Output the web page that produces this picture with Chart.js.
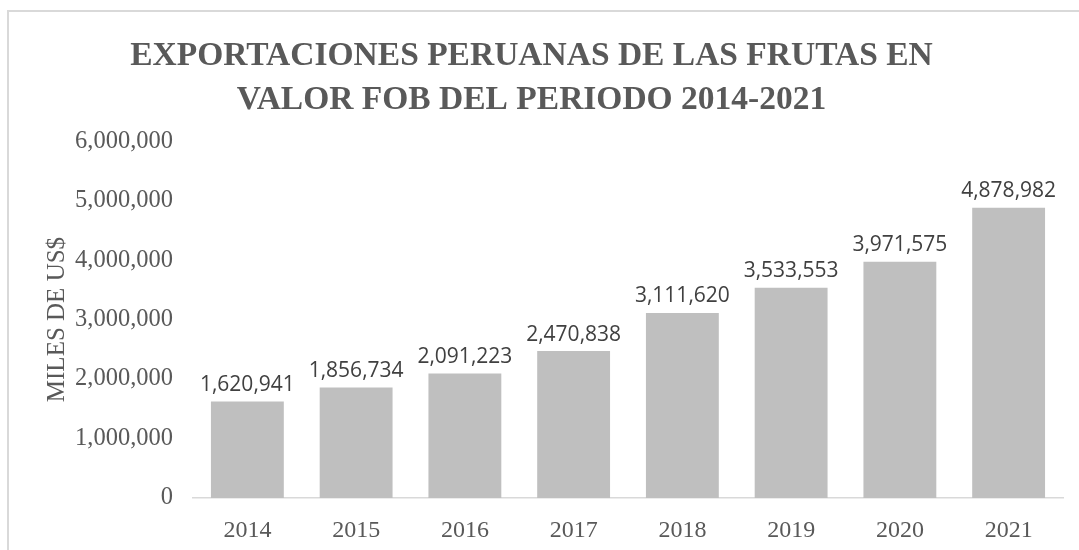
<!DOCTYPE html>
<html>
<head>
<meta charset="utf-8">
<script src="https://cdn.jsdelivr.net/npm/chart.js@4.4.0/dist/chart.umd.min.js"></script>
<style>
  html, body { margin: 0; padding: 0; background: #fff; }
  #wrap { position: relative; width: 1079px; height: 550px; }
  #frame {
    position: absolute; left: 7px; top: 10px; right: 0; bottom: 0;
    border-top: 2px solid #d9d9d9; border-left: 2px solid #d9d9d9;
    pointer-events: none;
  }
</style>
</head>
<body>
<div id="wrap">
  <canvas id="myChart" width="1079" height="550"></canvas>
  <div id="frame"></div>
</div>
<script>
// Chart data
const years = ["2014", "2015", "2016", "2017", "2018", "2019", "2020", "2021"];
const fobValues = [1620941, 1856734, 2091223, 2470838, 3111620, 3533553, 3971575, 4878982];
const titleLines = ["EXPORTACIONES PERUANAS DE LAS FRUTAS EN", "VALOR FOB DEL PERIODO 2014-2021"];
const yTitle = "MILES DE US$";

const serif = "'Liberation Serif', 'Times New Roman', serif";

// Draw the value above each bar
const valueLabels = {
    id: "valueLabels",
    afterDatasetsDraw(chart) {
        const ctx = chart.ctx;
        const meta = chart.getDatasetMeta(0);
        ctx.save();
        ctx.font = "21px 'Open Sans', sans-serif";
        ctx.fillStyle = "#404040";
        ctx.textAlign = "center";
        ctx.textBaseline = "bottom";
        meta.data.forEach((bar, i) => {
            ctx.fillText(fobValues[i].toLocaleString("en-US"), bar.x, bar.y - 6);
        });
        ctx.restore();
    }
};

new Chart("myChart", {
    type: "bar",
    data: {
        labels: years,
        datasets: [{
            data: fobValues,
            backgroundColor: "#bfbfbf",
            categoryPercentage: 1,
            barPercentage: 0.67
        }]
    },
    plugins: [valueLabels],
    options: {
        responsive: false,
        animation: false,
        layout: { padding: { left: 0, right: 16, top: 10, bottom: 0 } },
        plugins: {
            legend: { display: false },
            tooltip: { enabled: false },
            title: {
                display: true,
                text: titleLines,
                color: "#595959",
                font: { family: serif, size: 33.5, weight: "bold", lineHeight: 1.3 },
                padding: { top: 25, bottom: 19 }
            }
        },
        scales: {
            x: {
                grid: { display: false, drawTicks: false },
                border: { display: true, color: "#d9d9d9", width: 1.5 },
                ticks: { color: "#595959", font: { family: serif, size: 24 }, padding: 18 },
                afterFit(scale) { scale.height = 52; }
            },
            y: {
                min: 0,
                max: 6000000,
                grid: { display: false, drawTicks: false },
                border: { display: false },
                ticks: {
                    stepSize: 1000000,
                    color: "#595959",
                    font: { family: serif, size: 24.5 },
                    padding: 20,
                    callback: v => v.toLocaleString("en-US")
                },
                title: {
                    display: true,
                    text: yTitle,
                    color: "#595959",
                    font: { family: serif, size: 25 },
                    padding: { top: 42, bottom: 0 }
                },
                afterFit(scale) { scale.width = 193; }
            }
        }
    }
});
</script>
</body>
</html>
